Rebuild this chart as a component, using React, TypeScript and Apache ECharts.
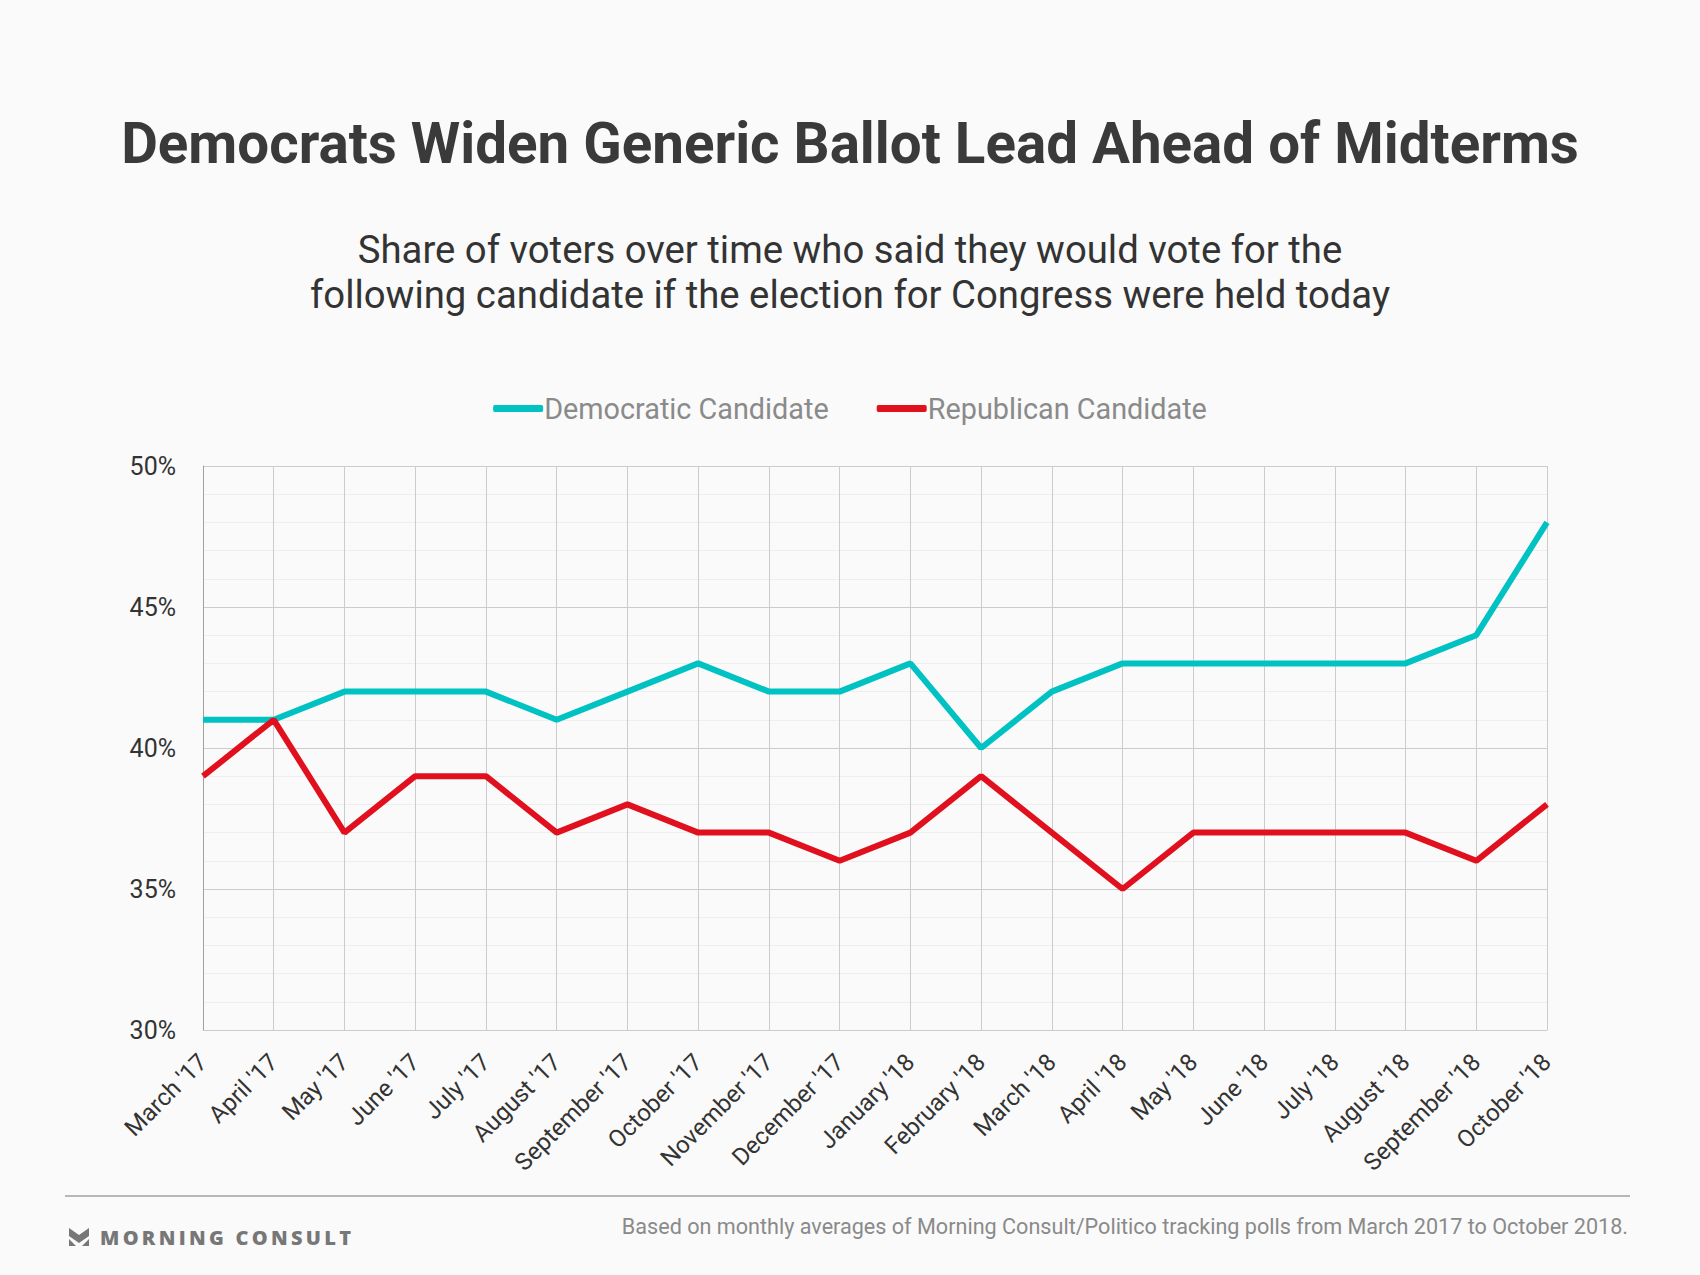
import React, { useEffect, useRef } from "react";
import * as echarts from "echarts";

const categories = [
  "March '17", "April '17", "May '17", "June '17", "July '17", "August '17",
  "September '17", "October '17", "November '17", "December '17", "January '18",
  "February '18", "March '18", "April '18", "May '18", "June '18", "July '18",
  "August '18", "September '18", "October '18",
];
const democratic = [41, 41, 42, 42, 42, 41, 42, 43, 42, 42, 43, 40, 42, 43, 43, 43, 43, 43, 44, 48];
const republican = [39, 41, 37, 39, 39, 37, 38, 37, 37, 36, 37, 39, 37, 35, 37, 37, 37, 37, 36, 38];
const yTicks = { min: 30, max: 50, interval: 5 };

const TITLE = "Democrats Widen Generic Ballot Lead Ahead of Midterms";
const SUBTITLE = "Share of voters over time who said they would vote for the\nfollowing candidate if the election for Congress were held today";
const FOOTNOTE = "Based on monthly averages of Morning Consult/Politico tracking polls from March 2017 to October 2018.";
const LOGO = "MORNING CONSULT";

function logoLetters() {
  const font = "800 20px 'Open Sans'";
  let ctx: CanvasRenderingContext2D | null = null;
  try {
    ctx = document.createElement("canvas").getContext("2d");
    if (ctx) ctx.font = font;
  } catch (e) {
    ctx = null;
  }
  const spacing = 3.3;
  let x = 100;
  const out: any[] = [];
  for (const ch of LOGO) {
    const w = ctx ? ctx.measureText(ch).width : 13;
    if (ch !== " ") {
      out.push({
        type: "text",
        x,
        y: 1237,
        style: {
          text: ch,
          font,
          fill: "#777777",
          verticalAlign: "middle",
          align: "left",
        },
      });
    }
    x += w + spacing;
  }
  return out;
}

export default function App() {
  const ref = useRef<HTMLDivElement>(null);
  useEffect(() => {
    if (!ref.current) return;
    const chart = echarts.init(ref.current, undefined, { renderer: "svg" });
    const option: any = {
      animation: false,
      backgroundColor: "#fafafa",
      textStyle: { fontFamily: "Roboto" },
      title: [
        {
          text: TITLE,
          left: "center",
          top: 110,
          textStyle: { fontFamily: "Roboto", fontWeight: 700, fontSize: 56.5, color: "#3a3a3a" },
        },
        {
          text: SUBTITLE,
          left: "center",
          top: 222,
          textStyle: { fontFamily: "Roboto", fontWeight: 400, fontSize: 38.3, lineHeight: 45, color: "#333333" },
        },
      ],
      legend: {
        top: 389,
        left: "center",
        icon: "roundRect",
        itemWidth: 50,
        itemHeight: 7,
        itemGap: 48,
        textStyle: { fontFamily: "Roboto", fontSize: 28.8, color: "#8a8a8a", padding: [0, 0, 0, -4] },
        data: ["Democratic Candidate", "Republican Candidate"],
      },
      grid: { left: 203, right: 153, top: 466, bottom: 245, containLabel: false },
      xAxis: {
        type: "category",
        data: categories,
        boundaryGap: false,
        axisLine: { lineStyle: { color: "#cccccc", width: 1 } },
        axisTick: { show: false },
        splitLine: { show: true, lineStyle: { color: "#cccccc", width: 1 } },
        axisLabel: {
          rotate: 45,
          interval: 0,
          margin: 28,
          fontFamily: "Roboto",
          fontSize: 24,
          color: "#333333",
        },
      },
      yAxis: {
        type: "value",
        min: yTicks.min,
        max: yTicks.max,
        interval: yTicks.interval,
        axisLine: { show: true, lineStyle: { color: "#a0a0a0", width: 1 } },
        axisTick: { show: false },
        splitLine: { show: true, lineStyle: { color: "#cccccc", width: 1 } },
        minorTick: { show: false, splitNumber: 5 },
        minorSplitLine: { show: true, lineStyle: { color: "#eeeeee", width: 1 } },
        axisLabel: {
          formatter: "{value}%",
          margin: 27,
          fontFamily: "Roboto",
          fontSize: 25,
          color: "#333333",
        },
      },
      series: [
        {
          name: "Democratic Candidate",
          type: "line",
          data: democratic,
          symbol: "none",
          lineStyle: { color: "#00c2c2", width: 6 },
          itemStyle: { color: "#00c2c2" },
        },
        {
          name: "Republican Candidate",
          type: "line",
          data: republican,
          symbol: "none",
          lineStyle: { color: "#e0101e", width: 6 },
          itemStyle: { color: "#e0101e" },
        },
      ],
      graphic: [
        {
          type: "line",
          shape: { x1: 65, y1: 1196, x2: 1630, y2: 1196 },
          style: { stroke: "#777777", lineWidth: 1.2 },
        },
        {
          type: "text",
          x: 1628,
          y: 1226,
          style: {
            text: FOOTNOTE,
            font: "400 21.6px Roboto",
            fill: "#8a8a8a",
            align: "right",
            verticalAlign: "middle",
          },
        },
        {
          type: "group",
          x: 69,
          y: 1228,
          children: [
            {
              type: "polygon",
              shape: { points: [[0, 0], [10, 7], [20, 0], [20, 8], [10, 15], [0, 8]] },
              style: { fill: "#777777" },
            },
            {
              type: "polygon",
              shape: { points: [[0, 11], [7, 18], [0, 18]] },
              style: { fill: "#777777" },
            },
            {
              type: "polygon",
              shape: { points: [[20, 11], [13, 18], [20, 18]] },
              style: { fill: "#777777" },
            },
          ],
        },
        ...logoLetters(),
      ],
    };
    chart.setOption(option);
    return () => chart.dispose();
  }, []);
  return (
    <div
      ref={ref}
      style={{ position: "fixed", left: 0, top: 0, width: 1700, height: 1275 }}
    />
  );
}
